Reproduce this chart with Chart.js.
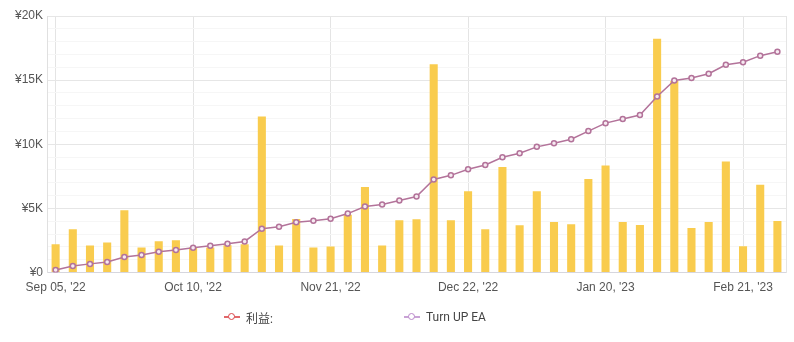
<!DOCTYPE html>
<html>
<head>
<meta charset="utf-8">
<script src="https://cdn.jsdelivr.net/npm/chart.js@4.4.1/dist/chart.umd.min.js"></script>
<style>
  html, body { margin: 0; padding: 0; background: #fff; }
  #wrap { position: relative; width: 794px; height: 342px; }
  #legend { position: absolute; top: 308px; left: 0; width: 794px; height: 18px;
    font: 12px Roboto, "Noto Sans CJK SC", sans-serif; color: #444; }
  .item { position: absolute; top: 0; display: flex; align-items: center; height: 18px; }
  .mark { position: relative; width: 16px; height: 10px; margin-right: 6px; }
  .mark .ln { position: absolute; left: 0; right: 0; top: 4px; height: 2px; }
  .mark .dot { position: absolute; left: 4px; top: 1px; width: 5px; height: 5px; border-radius: 50%;
    background: #fff; border: 1.5px solid; }
</style>
</head>
<body>
<div id="wrap">
  <canvas id="c" width="794" height="342"></canvas>
  <div id="legend">
    <div class="item" style="left:224px">
      <div class="mark"><div class="ln" style="background:#e2676a"></div><div class="dot" style="border-color:#d9454a"></div></div>
      <span>利益:</span>
    </div>
    <div class="item" style="left:404px">
      <div class="mark"><div class="ln" style="background:#c9a2d6"></div><div class="dot" style="border-color:#b987c9"></div></div>
      <span>Turn UP EA</span>
    </div>
  </div>
</div>
<script>
// categories (labelled every 8th point; intermediate dates estimated)
const dates = [
  "Sep 05, '22", "Sep 09, '22", "Sep 14, '22", "Sep 19, '22", "Sep 23, '22", "Sep 27, '22", "Sep 30, '22", "Oct 05, '22",
  "Oct 10, '22", "Oct 14, '22", "Oct 19, '22", "Oct 24, '22", "Oct 28, '22", "Nov 02, '22", "Nov 08, '22", "Nov 15, '22",
  "Nov 21, '22", "Nov 25, '22", "Nov 29, '22", "Dec 02, '22", "Dec 07, '22", "Dec 12, '22", "Dec 15, '22", "Dec 19, '22",
  "Dec 22, '22", "Dec 27, '22", "Dec 30, '22", "Jan 04, '23", "Jan 06, '23", "Jan 10, '23", "Jan 13, '23", "Jan 17, '23",
  "Jan 20, '23", "Jan 25, '23", "Jan 30, '23", "Feb 02, '23", "Feb 07, '23", "Feb 10, '23", "Feb 14, '23", "Feb 17, '23",
  "Feb 21, '23", "Feb 24, '23", "Feb 28, '23"
];

// 利益 per period (yen)
const profit = [
  2200, 3370, 2120, 2350, 4860, 1960, 2450, 2530,
  1950, 1960, 2140, 2200, 12160, 2120, 4180, 1960,
  2040, 4500, 6670, 2120, 4080, 4160, 16240, 4080,
  6350, 3370, 8240, 3690, 6350, 3950, 3760, 7290,
  8340, 3950, 3710, 18220, 14930, 3470, 3950, 8650,
  2060, 6850, 4020
];

// Turn UP EA cumulative (yen)
const cumulative = [
  200, 520, 680, 830, 1220, 1380, 1620, 1770,
  1930, 2090, 2240, 2430, 3420, 3580, 3920, 4050,
  4200, 4600, 5150, 5300, 5620, 5930, 7260, 7580,
  8050, 8390, 8990, 9300, 9800, 10090, 10400, 11030,
  11650, 11970, 12280, 13730, 14980, 15160, 15500, 16200,
  16390, 16910, 17220
];

const yTicks = [0, 5000, 10000, 15000, 20000];
const yLabels = ['¥0', '¥5K', '¥10K', '¥15K', '¥20K'];

const tickFont = { family: 'Arial, "Liberation Sans", sans-serif', size: 12 };

new Chart(document.getElementById('c'), {
  data: {
    labels: dates,
    datasets: [
      {
        type: 'line',
        label: 'Turn UP EA',
        data: cumulative,
        borderColor: '#b3739a',
        borderWidth: 1.5,
        pointRadius: 2.5,
        pointBorderWidth: 1.5,
        pointBackgroundColor: '#f6eaf1',
        pointBorderColor: '#b3739a',
        tension: 0,
        order: 1,
      },
      {
        type: 'bar',
        label: '利益:',
        data: profit,
        backgroundColor: '#f9cc4e',
        barPercentage: 0.94,
        categoryPercentage: 0.5,
        order: 2,
      },
    ],
  },
  options: {
    responsive: false,
    animation: false,
    layout: { padding: { top: 16, right: 8, left: 11, bottom: 39 } },
    plugins: { legend: { display: false }, tooltip: { enabled: false } },
    scales: {
      x: {
        offset: true,
        grid: {
          offset: false,
          drawTicks: false,
          color: (ctx) => (ctx.index % 8 === 0 ? '#e4e4e4' : 'rgba(0,0,0,0)'),
        },
        border: { color: '#d6d6de' },
        ticks: {
          autoSkip: false,
          maxRotation: 0,
          padding: 8,
          color: '#555',
          font: tickFont,
          callback: (v, i) => (i % 8 === 0 ? dates[i] : ''),
        },
      },
      y: {
        min: 0,
        max: 20000,
        ticks: {
          stepSize: 1000,
          autoSkip: false,
          padding: 4,
          color: '#555',
          font: tickFont,
          callback: (v) => {
            const i = yTicks.indexOf(v);
            return i >= 0 ? yLabels[i] : '';
          },
        },
        grid: {
          drawTicks: false,
          color: (ctx) => (ctx.tick && ctx.tick.value % 5000 === 0 ? '#e6e6e6' : '#f6f6f6'),
        },
        border: { color: '#e0e0e0' },
      },
      y1: {
        position: 'right',
        min: 0,
        max: 20000,
        ticks: { display: false },
        grid: { drawOnChartArea: false, drawTicks: false },
        border: { color: '#e4e4e4' },
      },
    },
  },
});
</script>
</body>
</html>
